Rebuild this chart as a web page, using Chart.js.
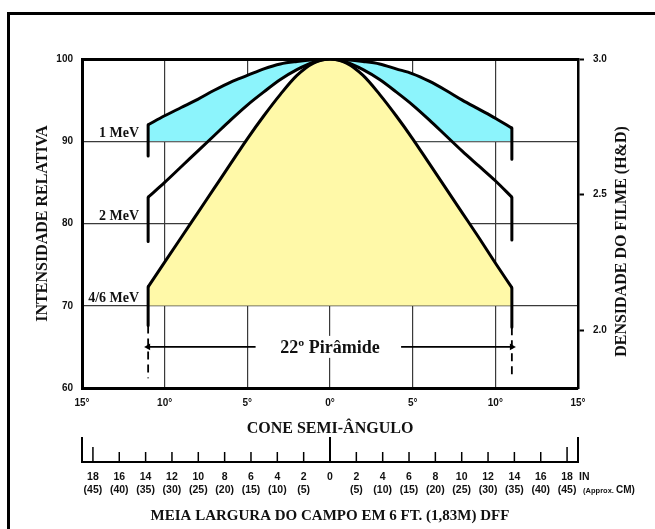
<!DOCTYPE html>
<html>
<head>
<meta charset="utf-8">
<script src="https://cdn.jsdelivr.net/npm/chart.js@4.4.1/dist/chart.umd.min.js"></script>
<style>
  html, body { margin: 0; padding: 0; background: #fff; overflow: hidden; }
  #wrap { position: relative; width: 655px; height: 529px; overflow: hidden; }
  #frame { position: absolute; left: 7px; top: 12px; width: 800px; height: 700px; border: 3px solid #000; box-sizing: border-box; }
  #c { position: absolute; left: 0; top: 0; }
</style>
</head>
<body>
<div id="wrap">
  <div id="frame"></div>
  <canvas id="c" width="655" height="529"></canvas>
</div>
<script>
// Cone half-angle (degrees) where each profile is sampled
const angles = [-11, -10, -9, -8, -7, -6, -5, -4, -3, -2, -1, 0, 1, 2, 3, 4, 5, 6, 7, 8, 9, 10, 11];

// Relative intensity profiles (%)
const mev1  = [92.0, 93.1, 94.1, 95.1, 96.2, 97.2, 98.0, 98.8, 99.4, 99.7, 99.9, 100, 99.9, 99.7, 99.4, 98.8, 98.2, 97.3, 96.2, 95.0, 93.9, 92.8, 91.6];
const mev2  = [83.2, 85.0, 86.9, 88.8, 90.7, 92.6, 94.4, 96.0, 97.5, 98.7, 99.6, 100, 99.6, 98.7, 97.5, 96.0, 94.4, 92.6, 90.7, 88.8, 87.0, 85.2, 83.2];
const mev46 = [72.3, 75.3, 78.3, 81.3, 84.3, 87.3, 90.3, 93.1, 95.7, 98.0, 99.5, 100, 99.5, 98.0, 95.7, 93.1, 90.3, 87.3, 84.3, 81.3, 78.3, 75.2, 72.2];

const curveNames  = ['1 MeV', '2 MeV', '4/6 MeV'];
const nameLevels  = [90, 80, 70];        // gridline each name sits on
const fillLevels  = [90, 70];            // cyan band floor, yellow area floor

// End markers below each profile at the pyramid edge
const dropLeft  = [88.2, 77.8, 67.6];
const dropRight = [87.8, 78.0, 67.4];

// 22° pyramid dimension line
const pyramidEdges = [-11, 11];
const pyramidLevel = 65;
const pyramidGap   = [-4.5, 4.3];
const pyramidDashEnd = 61.2;

// Axis ticks
const degreeTicks    = [-15, -10, -5, 0, 5, 10, 15];
const intensityTicks = [60, 70, 80, 90, 100];
const densityTicks   = [2.0, 2.5, 3.0];
const inchTicks      = [-18, -16, -14, -12, -10, -8, -6, -4, -2, 0, 2, 4, 6, 8, 10, 12, 14, 16, 18];
const cmTicks        = [5, 10, 15, 20, 25, 30, 35, 40, 45];

const SERIF = '"Liberation Serif", "Times New Roman", serif';
const SANS  = '"Liberation Sans", Arial, sans-serif';
const CYAN = '#8cf4fc';
const YELLOW = '#fff9a8';
const GRID = '#3a3a3a';
const NONE = 'rgba(0,0,0,0)';

const pts = arr => angles.map((a, i) => ({ x: a, y: arr[i] }));
const curves = [mev1, mev2, mev46];
const last = angles.length - 1;

const fillSet = (arr, level, color, order) => ({
  data: pts(arr), borderColor: NONE, borderWidth: 0, pointRadius: 0,
  cubicInterpolationMode: 'monotone',
  fill: { target: { value: level }, above: color, below: NONE }, order
});
const lineSet = (data, extra) => Object.assign({
  data, borderColor: '#000', borderWidth: 3, pointRadius: 0, fill: false,
  borderCapStyle: 'butt', borderJoinStyle: 'round', order: 1
}, extra || {});

const datasets = [
  fillSet(mev1, fillLevels[0], CYAN, 40),
  fillSet(mev2, fillLevels[0], '#ffffff', 30),
  fillSet(mev46, fillLevels[1], YELLOW, 20),
];
curves.forEach((c, k) => {
  datasets.push(lineSet(pts(c), { cubicInterpolationMode: 'monotone' }));
  datasets.push(lineSet([{ x: angles[0], y: c[0] }, { x: angles[0], y: dropLeft[k] }]));
  datasets.push(lineSet([{ x: angles[last], y: c[last] }, { x: angles[last], y: dropRight[k] }]));
});
// dashed pyramid edges
datasets.push(lineSet([{ x: pyramidEdges[0], y: dropLeft[2] }, { x: pyramidEdges[0], y: pyramidDashEnd }], { borderWidth: 1.8, borderDash: [8, 5] }));
datasets.push(lineSet([{ x: pyramidEdges[1], y: dropRight[2] }, { x: pyramidEdges[1], y: pyramidDashEnd }], { borderWidth: 1.8, borderDash: [8, 5] }));
// dimension arrows
datasets.push(lineSet([{ x: pyramidEdges[0], y: pyramidLevel }, { x: pyramidGap[0], y: pyramidLevel }], {
  borderWidth: 1.6, pointStyle: 'triangle', pointRadius: [4, 0], rotation: [-90, 0],
  pointBackgroundColor: '#000', pointBorderColor: '#000', pointBorderWidth: 0
}));
datasets.push(lineSet([{ x: pyramidGap[1], y: pyramidLevel }, { x: pyramidEdges[1], y: pyramidLevel }], {
  borderWidth: 1.6, pointStyle: 'triangle', pointRadius: [0, 4], rotation: [0, 90],
  pointBackgroundColor: '#000', pointBorderColor: '#000', pointBorderWidth: 0
}));

const annotations = {
  id: 'annotations',
  afterDraw(chart) {
    const { ctx, scales: { x, y, xin } } = chart;
    ctx.save();
    ctx.fillStyle = '#111';

    // profile names
    ctx.font = `bold 14px ${SERIF}`;
    ctx.textAlign = 'right';
    ctx.textBaseline = 'alphabetic';
    curveNames.forEach((n, k) => {
      ctx.fillText(n, x.getPixelForValue(angles[0]) - 9, y.getPixelForValue(nameLevels[k]) - 4);
    });

    // pyramid label
    ctx.font = `bold 18px ${SERIF}`;
    const label = '22º Pirâmide';
    const cx = x.getPixelForValue(0), cy = y.getPixelForValue(pyramidLevel);
    const w = ctx.measureText(label).width;
    ctx.fillStyle = '#fff';
    ctx.fillRect(cx - w / 2 - 3, cy - 11, w + 6, 22);
    ctx.fillStyle = '#111';
    ctx.textAlign = 'center';
    ctx.textBaseline = 'middle';
    ctx.fillText(label, cx, cy + 1);

    // right axis title
    ctx.font = `bold 16px ${SERIF}`;
    ctx.save();
    ctx.translate(622, (chart.chartArea.top + chart.chartArea.bottom) / 2 + 18);
    ctx.rotate(-Math.PI / 2);
    ctx.fillText('DENSIDADE DO FILME (H&D)', 0, 0);
    ctx.restore();

    // inch scale tick marks (drawn upward from the baseline)
    const base = xin.top;
    ctx.strokeStyle = '#000';
    const mark = (v, len, lw) => {
      const px = xin.getPixelForValue(v);
      ctx.lineWidth = lw;
      ctx.beginPath();
      ctx.moveTo(px, base);
      ctx.lineTo(px, base - len);
      ctx.stroke();
    };
    inchTicks.forEach(v => {
      if (v === 0) mark(v, 25, 2);
      else if (Math.abs(v) === 18) mark(v, 15, 1.5);
      else mark(v, 10, 1.5);
    });
    mark(xin.min, 25, 2);
    mark(xin.max, 25, 2);

    // unit notes
    const p18 = xin.getPixelForValue(inchTicks[inchTicks.length - 1]);
    ctx.textAlign = 'left';
    ctx.textBaseline = 'middle';
    ctx.font = `bold 10.5px ${SANS}`;
    ctx.fillText('IN', p18 + 12, base + 15);
    ctx.font = `bold 7.5px ${SANS}`;
    const t1 = '(Approx. ';
    ctx.fillText(t1, p18 + 16, base + 29);
    const w1 = ctx.measureText(t1).width;
    ctx.font = `bold 10px ${SANS}`;
    ctx.fillText('CM)', p18 + 16 + w1, base + 28);
    ctx.restore();
  }
};

new Chart(document.getElementById('c'), {
  type: 'line',
  data: { datasets },
  options: {
    responsive: false,
    devicePixelRatio: 1,
    animation: false,
    events: [],
    layout: { padding: { top: 59, right: 0, bottom: 0, left: 0 } },
    plugins: { legend: { display: false }, tooltip: { enabled: false } },
    scales: {
      x: {
        type: 'linear', position: 'bottom', min: -15, max: 15, weight: 0, z: 1,
        afterBuildTicks: s => { s.ticks = degreeTicks.map(v => ({ value: v })); },
        ticks: { callback: v => Math.abs(v) + '°', font: { family: SANS, size: 10, weight: 'bold' },
                 color: '#111', padding: 9, maxRotation: 0, autoSkip: false },
        grid: { color: GRID, lineWidth: 1.2, drawTicks: false },
        border: { display: true, color: '#000', width: 3 },
        title: { display: true, text: 'CONE SEMI-ÂNGULO', color: '#111',
                 font: { family: SERIF, size: 16, weight: 'bold' }, padding: { top: 0, bottom: 24 } },
        afterFit: s => { s.height = 74; }
      },
      xin: {
        type: 'linear', position: 'bottom', min: -18.83, max: 18.83, weight: 1,
        afterBuildTicks: s => { s.ticks = inchTicks.map(v => ({ value: v })); },
        ticks: {
          callback: v => v === 0 ? ['0', ''] : [String(Math.abs(v)), '(' + cmTicks[Math.abs(v) / 2 - 1] + ')'],
          font: { family: SANS, size: 10.5, weight: 'bold', lineHeight: 1.24 },
          color: '#111', padding: 8.5, maxRotation: 0, autoSkip: false
        },
        grid: { display: false, drawTicks: false },
        border: { display: true, color: '#000', width: 2 },
        title: { display: true, text: 'MEIA LARGURA DO CAMPO EM 6 FT. (1,83M) DFF', color: '#111',
                 font: { family: SERIF, size: 15, weight: 'bold' }, padding: { top: 0, bottom: 4 } },
        afterFit: s => { s.height = 67; }
      },
      y: {
        position: 'left', min: 60, max: 100, z: 1,
        afterBuildTicks: s => { s.ticks = intensityTicks.map(v => ({ value: v })); },
        ticks: { font: { family: SANS, size: 10, weight: 'bold' }, color: '#111', padding: 9 },
        grid: {
          color: c => (c.tick && c.tick.value === 100) ? '#000' : GRID,
          lineWidth: c => (c.tick && c.tick.value === 100) ? 3 : 1.2,
          drawTicks: false
        },
        border: { display: true, color: '#000', width: 3 },
        title: { display: true, text: 'INTENSIDADE RELATIVA', color: '#111',
                 font: { family: SERIF, size: 16, weight: 'bold' }, padding: { top: 33, bottom: 0 } },
        afterFit: s => { s.width = 82; }
      },
      y2: {
        position: 'right', min: 1.787, max: 3.0,
        afterBuildTicks: s => { s.ticks = densityTicks.map(v => ({ value: v })); },
        ticks: { callback: v => v.toFixed(1), font: { family: SANS, size: 10, weight: 'bold' }, color: '#111', padding: 9 },
        grid: { drawOnChartArea: false, drawTicks: true, tickLength: 6, tickWidth: 2, tickColor: '#000' },
        border: { display: true, color: '#000', width: 2.5 },
        afterFit: s => { s.width = 77; }
      }
    }
  },
  plugins: [annotations]
});
</script>
</body>
</html>
